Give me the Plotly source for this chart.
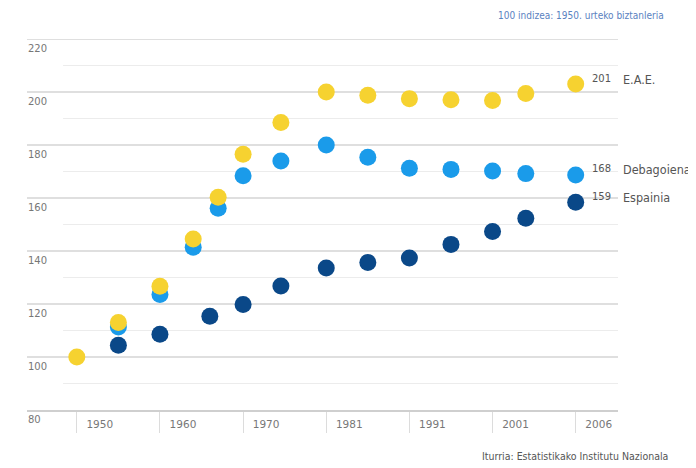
import numpy as np
import plotly.graph_objects as go

# ---- data ----
tick_years = [1950, 1960, 1970, 1981, 1991, 2001, 2006]
tick_labels = ["1950", "1960", "1970", "1981", "1991", "2001", "2006"]

eae_years = [1950, 1955, 1960, 1964, 1967, 1970, 1975, 1981, 1986, 1991, 1996, 2001, 2003, 2006]
eae_vals = [100, 113, 126.7, 144.5, 160.3, 176.5, 188.5, 200, 198.8, 197.5, 197.1, 196.8, 199.4, 203]

deba_years = [1955, 1960, 1964, 1967, 1970, 1975, 1981, 1986, 1991, 1996, 2001, 2003, 2006]
deba_vals = [111.3, 123.6, 141.4, 156.1, 168.4, 174.0, 180.0, 175.4, 171.2, 170.8, 170.2, 169.2, 168.7]

esp_years = [1955, 1960, 1966, 1970, 1975, 1981, 1986, 1991, 1996, 2001, 2003, 2006]
esp_vals = [104.4, 108.6, 115.4, 119.8, 126.8, 133.6, 135.7, 137.4, 142.5, 147.4, 152.4, 158.4]

series_names = ["E.A.E.", "Debagoiena", "Espainia"]
end_labels = ["201", "168", "159"]

major_ticks = [80, 100, 120, 140, 160, 180, 200, 220]
minor_ticks = [90, 110, 130, 150, 170, 190, 210]

subtitle = "100 indizea: 1950. urteko biztanleria"
source = "Iturria: Estatistikako Institutu Nazionala"

# ---- styles ----
COL_EAE = "#F6D230"
COL_DEBA = "#1A9BEA"
COL_ESP = "#0A4888"
GRID = "#d4d4d4"
GRID_MINOR = "#ececec"
NARROW = "Liberation Sans Narrow, DejaVu Sans Condensed, Roboto Condensed, Arial Narrow, Roboto"

OFF = 8                      # page body margin of the browser
W, H = 696 - OFF, 468 - OFF  # figure size
L = 27 - OFF
R_EDGE = 618 - OFF
T = 39 - OFF
B_EDGE = 410 - OFF
PW = R_EDGE - L
PH = B_EDGE - T

slots = list(range(len(tick_years)))


def to_slot(years):
    # the original graphic spaces its year ticks evenly
    return np.interp(years, tick_years, slots)


def px_x(px):
    return (px - OFF - L) / PW


def px_y(py):
    return (B_EDGE - (py - OFF)) / PH


fig = go.Figure()

series = [
    (esp_years, esp_vals, COL_ESP, series_names[2]),
    (deba_years, deba_vals, COL_DEBA, series_names[1]),
    (eae_years, eae_vals, COL_EAE, series_names[0]),
]
for yrs, vals, col, name in series:
    fig.add_trace(go.Scatter(
        x=to_slot(yrs), y=vals, mode="markers", name=name,
        marker=dict(size=17, color=col, line=dict(width=0)),
        cliponaxis=False, showlegend=False,
    ))

# gridlines
for v in major_ticks[1:]:
    fig.add_shape(type="line", xref="x domain", yref="y", x0=0, x1=1, y0=v, y1=v,
                  line=dict(color=GRID, width=1.5), layer="below")
for v in minor_ticks:
    fig.add_shape(type="line", xref="x domain", yref="y", x0=0.061, x1=1, y0=v, y1=v,
                  line=dict(color=GRID_MINOR, width=1.2), layer="below")

# y tick labels (sit just below their gridline)
for v in major_ticks:
    fig.add_annotation(x=0, y=v, xref="x domain", yref="y", text=str(v), showarrow=False,
                       xanchor="left", yanchor="top", yshift=-2, xshift=-1,
                       font=dict(family="DejaVu Sans", size=10, color="#777777"))

# end labels
for yrs, vals, lab, name in zip([eae_years, deba_years, esp_years],
                                [eae_vals, deba_vals, esp_vals],
                                end_labels, series_names):
    xs = to_slot([yrs[-1]])[0]
    fig.add_annotation(x=xs, y=vals[-1], xref="x", yref="y", text=lab, showarrow=False,
                       xanchor="left", yanchor="middle", xshift=14, yshift=6,
                       font=dict(family="DejaVu Sans", size=10, color="#555555"))
    fig.add_annotation(x=xs, y=vals[-1], xref="x", yref="y", text=name, showarrow=False,
                       xanchor="left", yanchor="middle", xshift=45, yshift=5,
                       font=dict(family=NARROW, size=12.5, color="#555555"))

fig.add_annotation(x=px_x(666), y=px_y(16), xref="paper", yref="paper", text=subtitle,
                   showarrow=False, xanchor="right", yanchor="middle",
                   font=dict(family=NARROW, size=10, color="#5a82bf"))
fig.add_annotation(x=px_x(670), y=px_y(456), xref="paper", yref="paper", text=source,
                   showarrow=False, xanchor="right", yanchor="middle",
                   font=dict(family=NARROW, size=10.5, color="#555555"))

sep0, slot_w = 76.8 - OFF, 83.15
x_lo = (L - sep0) / slot_w
x_hi = (R_EDGE - sep0) / slot_w

fig.update_layout(
    width=W, height=H,
    margin=dict(l=L, r=W - R_EDGE, t=T, b=H - B_EDGE, pad=0),
    paper_bgcolor="white", plot_bgcolor="white",
    font=dict(family="DejaVu Sans", color="#777777"),
    xaxis=dict(
        range=[x_lo, x_hi], tickmode="array", tickvals=slots, ticktext=tick_labels,
        showgrid=False, zeroline=False, showline=True, linecolor="#cfcfcf", linewidth=2,
        ticks="outside", ticklen=21, tickwidth=1, tickcolor="#dcdcdc",
        ticklabelshift=23, ticklabelstandoff=-18,
        tickfont=dict(family="DejaVu Sans", size=10.5, color="#777777"),
    ),
    yaxis=dict(
        range=[80, 220], showticklabels=False, ticks="",
        showgrid=False, zeroline=False, showline=False,
    ),
)

fig.write_html("out.html")
